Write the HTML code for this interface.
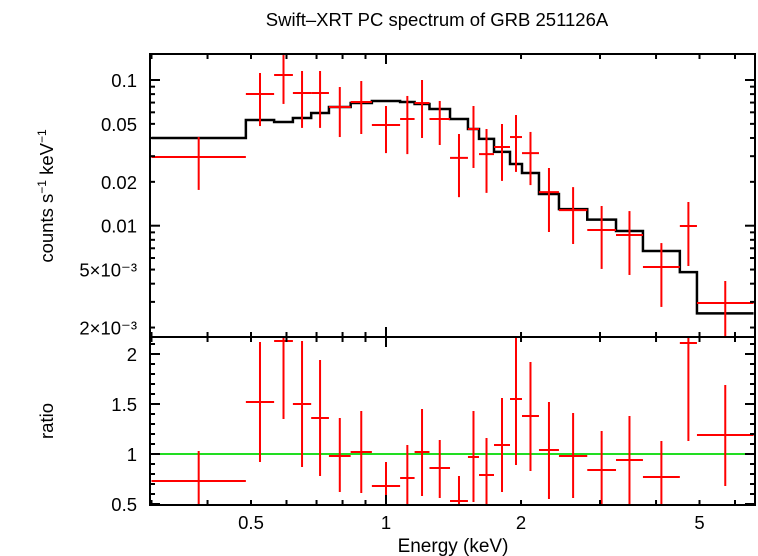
<!DOCTYPE html>
<html><head><meta charset="utf-8"><style>
html,body{margin:0;padding:0;background:#fff;}
svg{display:block;font-family:"Liberation Sans",sans-serif;}
</style></head><body>
<svg id="chart" width="758" height="556" xmlns="http://www.w3.org/2000/svg">
<text x="437" y="26" font-size="18.5" text-anchor="middle">Swift–XRT PC spectrum of GRB 251126A</text>
<text transform="translate(53,196) rotate(-90)" font-size="18.5" text-anchor="middle">counts s<tspan font-size="12" dy="-7">−1</tspan><tspan dy="7"> keV</tspan><tspan font-size="12" dy="-7">−1</tspan></text>
<text transform="translate(53,421) rotate(-90)" font-size="18.5" text-anchor="middle">ratio</text>
<text x="453" y="552" font-size="19" text-anchor="middle">Energy (keV)</text>
<g id="g"></g>
</svg>
<script>
// bin edges (keV)
const binEdges=[0.30,0.487,0.563,0.620,0.681,0.746,0.834,0.930,1.075,1.158,1.250,1.389,1.523,1.612,1.741,1.890,2.01,2.193,2.43,2.81,3.257,3.74,4.52,4.935,6.60];
// data counts s^-1 keV^-1
const dataVals=[0.0296,0.0802,0.1082,0.0814,0.0814,0.0653,0.0706,0.0491,0.054,0.0695,0.054,0.0292,0.0461,0.0310,0.0347,0.0406,0.0315,0.0170,0.0128,0.00934,0.00863,0.00521,0.00995,0.00295];
const dataHi=[0.0406,0.1117,0.1484,0.1153,0.1153,0.0895,0.0984,0.0663,0.0777,0.1,0.0718,0.0426,0.0663,0.0461,0.0499,0.0575,0.0440,0.0249,0.0184,0.01365,0.0126,0.0076,0.01455,0.00417];
const dataLo=[0.0176,0.0483,0.0685,0.0469,0.0469,0.0406,0.0426,0.0315,0.0310,0.04,0.0358,0.0157,0.0249,0.0168,0.0203,0.0234,0.0190,0.00905,0.00749,0.00505,0.00459,0.00277,0.00529,0.0015];
// model step values
const modelVals=[0.0400,0.0531,0.0515,0.0549,0.0594,0.0653,0.0695,0.0718,0.0706,0.0684,0.0632,0.0540,0.0461,0.0394,0.0321,0.0265,0.0230,0.0165,0.0130,0.0110,0.0092,0.0067,0.0048,0.0025];
// ratio panel
const ratioVals=[0.73,1.52,2.13,1.50,1.36,0.98,1.02,0.68,0.76,1.02,0.86,0.53,0.97,0.79,1.09,1.55,1.38,1.04,0.98,0.84,0.94,0.77,2.11,1.19];
const ratioHi=[1.03,2.12,2.3,2.13,1.94,1.36,1.43,0.92,1.09,1.45,1.14,0.78,1.43,1.16,1.56,2.3,1.92,1.52,1.41,1.23,1.38,1.13,2.3,1.69];
const ratioLo=[0.4,0.92,1.35,0.87,0.78,0.62,0.61,0.4,0.4,0.58,0.56,0.4,0.52,0.4,0.62,0.89,0.83,0.55,0.56,0.4,0.49,0.4,1.13,0.68];
const yTopLabels=[[0.1,"0.1"],[0.05,"0.05"],[0.02,"0.02"],[0.01,"0.01"],[0.005,"5×10⁻³"],[0.002,"2×10⁻³"]];
const yBotLabels=[0.5,1,1.5,2];
const xLabels=[[0.5,"0.5"],[1,"1"],[2,"2"],[5,"5"]];

const L=150,R=755,T1=54,B1=337,B2=505;
const xs=e=>251+448.5*Math.log10(e/0.5);
const ys=v=>80-145.7*Math.log10(v/0.1);
const yr=r=>454-100*(r-1);
const NS="http://www.w3.org/2000/svg";
const g=document.getElementById('g');
function el(tag,attrs,name,parent){const e=document.createElementNS(NS,tag);for(const k in attrs)e.setAttribute(k,attrs[k]);


(parent||g).appendChild(e);return e;}
const defs=el('defs',{},'defs');
const c1=el('clipPath',{id:'c1'},'clip-top',defs);el('rect',{x:L,y:T1,width:R-L,height:B1-T1},'clip-rect',c1);
const c2=el('clipPath',{id:'c2'},'clip-bottom',defs);el('rect',{x:L,y:B1,width:R-L,height:B2-B1},'clip-rect',c2);
const gt=el('g',{'clip-path':'url(#c1)'},'top-panel-plot');
const gb=el('g',{'clip-path':'url(#c2)'},'ratio-panel-plot');
let d='';
for(let i=0;i<modelVals.length;i++){const x0=xs(binEdges[i]),x1=xs(binEdges[i+1]),y=ys(modelVals[i]);d+=(i?'L':'M')+x0+','+y+'L'+x1+','+y;}
el('path',{d:d,fill:'none',stroke:'#000','stroke-width':2.5},'model-line',gt);
for(let i=0;i<dataVals.length;i++){const x0=xs(binEdges[i]),x1=xs(binEdges[i+1]),xc=xs(Math.sqrt(binEdges[i]*binEdges[i+1]));
el('line',{x1:x0,x2:x1,y1:ys(dataVals[i]),y2:ys(dataVals[i]),stroke:'#f00','stroke-width':2},'data-xerr',gt);
el('line',{x1:xc,x2:xc,y1:ys(dataHi[i]),y2:ys(dataLo[i]),stroke:'#f00','stroke-width':2},'data-yerr',gt);}
el('line',{x1:L,x2:R,y1:yr(1),y2:yr(1),stroke:'#22dd22','stroke-width':2},'unity-line',gb);
for(let i=0;i<ratioVals.length;i++){const x0=xs(binEdges[i]),x1=xs(binEdges[i+1]),xc=xs(Math.sqrt(binEdges[i]*binEdges[i+1]));
el('line',{x1:x0,x2:x1,y1:yr(ratioVals[i]),y2:yr(ratioVals[i]),stroke:'#f00','stroke-width':2},'ratio-xerr',gb);
el('line',{x1:xc,x2:xc,y1:yr(ratioHi[i]),y2:yr(ratioLo[i]),stroke:'#f00','stroke-width':2},'ratio-yerr',gb);}
el('rect',{x:L,y:T1,width:R-L,height:B1-T1,fill:'none',stroke:'#000','stroke-width':2},'top-frame');
el('rect',{x:L,y:B1,width:R-L,height:B2-B1,fill:'none',stroke:'#000','stroke-width':2},'bottom-frame');
const tick=(x1,y1,x2,y2,n)=>el('line',{x1,y1,x2,y2,stroke:'#000','stroke-width':2},n);
for(let dec of [0.1,1]){for(let m=1;m<10;m++){const e=dec*m;if(e<0.3||e>6.6)continue;const x=xs(e),len=(m===1)?10:5;
for(const [a,b] of [[T1,B1],[B1,B2]]){tick(x,a,x,a+len,'x-tick');tick(x,b,x,b-len,'x-tick');}}}
for(const [v,t] of xLabels){const e=el('text',{x:xs(v),y:529,'font-size':18.5,'text-anchor':'middle'},'x-tick-label');e.textContent=t;}
for(let dec of [0.001,0.01,0.1]){for(let m=1;m<10;m++){const v=dec*m;const y=ys(v);if(y<T1||y>B1)continue;const len=m===1?10:5;tick(L,y,L+len,y,'y-tick');tick(R,y,R-len,y,'y-tick');}}
for(const [v,t] of yTopLabels){const e=el('text',{x:137,y:ys(v)+7,'font-size':18.5,'text-anchor':'end'},'y-tick-label');e.textContent=t;}
for(let k=5;k<=21;k++){const v=k/10,y=yr(v);const len=(k%5===0)?10:5;tick(L,y,L+len,y,'ratio-tick');tick(R,y,R-len,y,'ratio-tick');}
for(const v of yBotLabels){const e=el('text',{x:137,y:yr(v)+7,'font-size':18.5,'text-anchor':'end'},'ratio-tick-label');e.textContent=String(v);}
</script>
</body></html>
